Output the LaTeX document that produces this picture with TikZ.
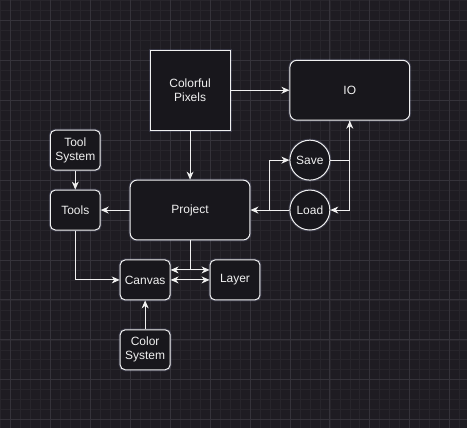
\documentclass[tikz,border=0pt]{standalone}
\usepackage{fontspec}
\setmainfont{Liberation Sans}
\usetikzlibrary{arrows.meta}

\definecolor{bgdark}{HTML}{1E1C22}
\definecolor{gridminor}{HTML}{27252B}
\definecolor{gridmajor}{HTML}{35333A}
\definecolor{boxfill}{HTML}{18171C}
\definecolor{inkline}{HTML}{F0F0F0}
\definecolor{glow}{HTML}{9FA8DA}

\begin{document}
\begin{tikzpicture}[x=1pt, y=-1pt,
    font=\fontsize{12}{14}\selectfont,
    box/.style={draw=inkline, fill=boxfill, text=inkline, line width=1pt,
        inner sep=0pt, align=center,
        preaction={draw=glow, line width=3pt, opacity=0.18}},
    bigbox/.style={box, rounded corners=7pt, minimum width=120pt, minimum height=60pt},
    smallbox/.style={box, rounded corners=5pt, minimum width=50pt, minimum height=40pt},
    ball/.style={box, circle, minimum size=40pt},
    link/.style={draw=inkline, line width=1pt, -{Stealth[length=8pt,width=7pt,inset=2.5pt]}},
    both/.style={link, {Stealth[length=8pt,width=7pt,inset=2.5pt]}-{Stealth[length=8pt,width=7pt,inset=2.5pt]}}
]
    % --- Background and grid ---
    \fill[bgdark] (0,0) rectangle (467,428);
    \foreach \x in {0,10,...,460} \draw[gridminor, line width=0.6pt] (\x,0) -- (\x,428);
    \foreach \y in {0,10,...,420} \draw[gridminor, line width=0.6pt] (0,\y) -- (467,\y);
    \foreach \x in {10,50,...,450} \draw[gridmajor, line width=0.8pt] (\x,0) -- (\x,428);
    \foreach \y in {20,60,...,420} \draw[gridmajor, line width=0.8pt] (0,\y) -- (467,\y);
    \useasboundingbox (0,0) rectangle (467,428);

    % --- Nodes ---
    \node[box, minimum width=80pt, minimum height=80pt] (pixels) at (190,90) {Colorful\\Pixels};
    \node[bigbox] (io) at (350,90) {IO};
    \node[bigbox] (project) at (190,210) {Project};
    \node[smallbox] (toolsys) at (75,150) {Tool\\System};
    \node[smallbox] (tools) at (75,210) {Tools};
    \node[ball] (save) at (310,160) {Save};
    \node[ball] (load) at (310,210) {Load};
    \node[smallbox] (canvas) at (145,280) {Canvas};
    \node[smallbox] (layer) at (235,280) {Layer};
    \node[smallbox] (colorsys) at (145,350) {Color\\System};

    % --- Coordinates ---
    \coordinate (split) at (270,210);  % branch point between Load and Project

    % --- Links ---
    \draw[link] (pixels) -- (io);
    \draw[link] (pixels) -- (project);
    \draw[link] (toolsys) -- (tools);
    \draw[link] (project) -- (tools);
    \draw[link] (load) -- (project);
    \draw[link] (split) |- (save);      % Load also feeds Save
    \draw[link] (save) -| (io);
    \draw[link] (io) |- (load);
    \draw[link] (tools) |- (canvas);
    \draw[link] (project) |- ([yshift=10pt]canvas.east);
    \draw[link] (project) |- ([yshift=10pt]layer.west);
    \draw[both] (canvas) -- (layer);    % two-way link
    \draw[link] (colorsys) -- (canvas);
\end{tikzpicture}
\end{document}
